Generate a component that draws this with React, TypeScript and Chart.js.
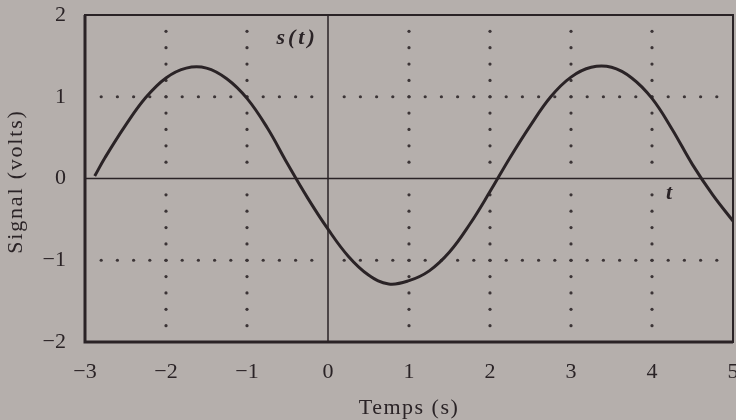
import React, { useEffect, useRef } from 'react';
import { Chart, registerables } from 'chart.js';

Chart.register(...registerables);

// Signal s(t) sampled along the time axis
const timeValues = [
  -2.88, -2.75, -2.5, -2.25, -2, -1.75, -1.5, -1.25, -1, -0.75, -0.5, -0.25,
  0, 0.25, 0.5, 0.75, 1, 1.25, 1.5, 1.75, 2, 2.25, 2.5, 2.75, 3, 3.25, 3.5,
  3.75, 4, 4.25, 4.5, 4.75, 5,
];
const signalValues = [
  0.03, 0.26, 0.65, 0.99, 1.23, 1.35, 1.35, 1.22, 0.98, 0.62, 0.18, -0.24,
  -0.62, -0.95, -1.18, -1.29, -1.25, -1.13, -0.9, -0.56, -0.16, 0.26, 0.65,
  1.0, 1.24, 1.36, 1.36, 1.23, 0.98, 0.6, 0.17, -0.2, -0.52,
];

const xTicks = [-3, -2, -1, 0, 1, 2, 3, 4, 5];
const yTicks = [-2, -1, 0, 1, 2];

// Dotted reference lines
const dottedX = [-2, -1, 1, 2, 3, 4];
const dottedY = [-1, 1];

const xTitle = 'Temps (s)';
const yTitle = 'Signal (volts)';
const curveLabel = 's(t)';
const axisLabel = 't';

const INK = '#2a2326';
const DOT = '#3b3436';
const PAPER = '#b5afac';
const SERIF = '"Liberation Serif", "Times New Roman", serif';

const fmt = (v: number) => (v < 0 ? '\u2212' + Math.abs(v) : String(v));

const framePlugin = {
  id: 'frame',
  beforeDraw(chart: any) {
    const { ctx, width, height } = chart;
    ctx.save();
    ctx.fillStyle = PAPER;
    ctx.fillRect(0, 0, width, height);
    ctx.restore();
  },
  beforeDatasetsDraw(chart: any) {
    const { ctx, chartArea: a } = chart;
    const xs = chart.scales.x;
    const ys = chart.scales.y;
    ctx.save();

    // dotted grid
    ctx.fillStyle = DOT;
    const dot = (px: number, py: number) => {
      ctx.beginPath();
      ctx.arc(px, py, 1.6, 0, Math.PI * 2);
      ctx.fill();
    };
    for (const gx of dottedX) {
      const px = xs.getPixelForValue(gx);
      for (let k = -9; k <= 9; k++) {
        if (k === 0) continue;
        dot(px, ys.getPixelForValue(k * 0.2));
      }
    }
    for (const gy of dottedY) {
      const py = ys.getPixelForValue(gy);
      for (let k = -14; k <= 24; k++) {
        if (k === 0) continue;
        dot(xs.getPixelForValue(k * 0.2), py);
      }
    }

    // zero axes
    ctx.strokeStyle = INK;
    ctx.lineWidth = 1.5;
    const x0 = xs.getPixelForValue(0);
    const y0 = ys.getPixelForValue(0);
    ctx.beginPath();
    ctx.moveTo(a.left, y0);
    ctx.lineTo(a.right, y0);
    ctx.moveTo(x0, a.top);
    ctx.lineTo(x0, a.bottom);
    ctx.stroke();

    // frame
    ctx.lineWidth = 2;
    ctx.strokeRect(a.left, a.top, a.right - a.left, a.bottom - a.top);
    ctx.lineWidth = 3;
    ctx.beginPath();
    ctx.moveTo(a.left, a.top);
    ctx.lineTo(a.left, a.bottom);
    ctx.lineTo(a.right, a.bottom);
    ctx.stroke();
    ctx.restore();
  },
  afterDatasetsDraw(chart: any) {
    const { ctx, chartArea: a } = chart;
    const xs = chart.scales.x;
    const ys = chart.scales.y;
    ctx.save();
    ctx.fillStyle = INK;
    ctx.textAlign = 'center';
    ctx.textBaseline = 'middle';

    // in-plot annotations
    ctx.font = `italic bold 22px ${SERIF}`;
    (ctx as any).letterSpacing = '3px';
    ctx.fillText(curveLabel, xs.getPixelForValue(-0.4) + 1.5, ys.getPixelForValue(1.71));
    (ctx as any).letterSpacing = '0px';
    ctx.fillText(axisLabel, xs.getPixelForValue(4.21), ys.getPixelForValue(-0.18));

    // axis titles
    ctx.font = `22px ${SERIF}`;
    (ctx as any).letterSpacing = '1.5px';
    ctx.fillText(xTitle, (a.left + a.right) / 2, 408);
    ctx.translate(16, (a.top + a.bottom) / 2 + 3);
    ctx.rotate(-Math.PI / 2);
    (ctx as any).letterSpacing = '1.8px';
    ctx.fillText(yTitle, 0, 0);
    ctx.restore();
  },
};

export default function App() {
  const canvasRef = useRef<HTMLCanvasElement | null>(null);

  useEffect(() => {
    const canvas = canvasRef.current;
    if (!canvas) return;
    const chart = new Chart(canvas, {
      type: 'line',
      data: {
        datasets: [
          {
            label: curveLabel,
            data: timeValues.map((t, i) => ({ x: t, y: signalValues[i] })),
            borderColor: INK,
            borderWidth: 3,
            pointRadius: 0,
            tension: 0.4,
            fill: false,
          },
        ],
      },
      options: {
        animation: false,
        responsive: false,
        devicePixelRatio: 1,
        layout: { padding: { top: 15, right: 17, left: 0, bottom: 0 } },
        plugins: {
          legend: { display: false },
          tooltip: { enabled: false },
        },
        scales: {
          x: {
            type: 'linear',
            min: -3,
            max: 5,
            afterBuildTicks: (s: any) => {
              s.ticks = xTicks.map((v) => ({ value: v }));
            },
            afterFit: (s: any) => {
              s.height = 78;
              s.paddingLeft = 0;
              s.paddingRight = 0;
            },
            grid: { display: false, drawTicks: false },
            border: { display: false },
            ticks: {
              padding: 17,
              color: INK,
              font: { family: SERIF, size: 22 },
              maxRotation: 0,
              autoSkip: false,
              callback: (v: any) => fmt(Number(v)),
            },
          },
          y: {
            type: 'linear',
            min: -2,
            max: 2,
            afterBuildTicks: (s: any) => {
              s.ticks = yTicks.map((v) => ({ value: v }));
            },
            afterFit: (s: any) => {
              s.width = 85;
              s.paddingTop = 0;
              s.paddingBottom = 0;
            },
            grid: { display: false, drawTicks: false },
            border: { display: false },
            ticks: {
              padding: 19,
              color: INK,
              font: { family: SERIF, size: 22 },
              autoSkip: false,
              callback: (v: any) => fmt(Number(v)),
            },
          },
        },
      },
      plugins: [framePlugin],
    });
    return () => chart.destroy();
  }, []);

  return (
    <div
      style={{
        position: 'fixed',
        left: 0,
        top: 0,
        width: 736,
        height: 420,
        overflow: 'hidden',
        background: PAPER,
      }}
    >
      <canvas ref={canvasRef} width={750} height={420} style={{ display: 'block' }} />
    </div>
  );
}
